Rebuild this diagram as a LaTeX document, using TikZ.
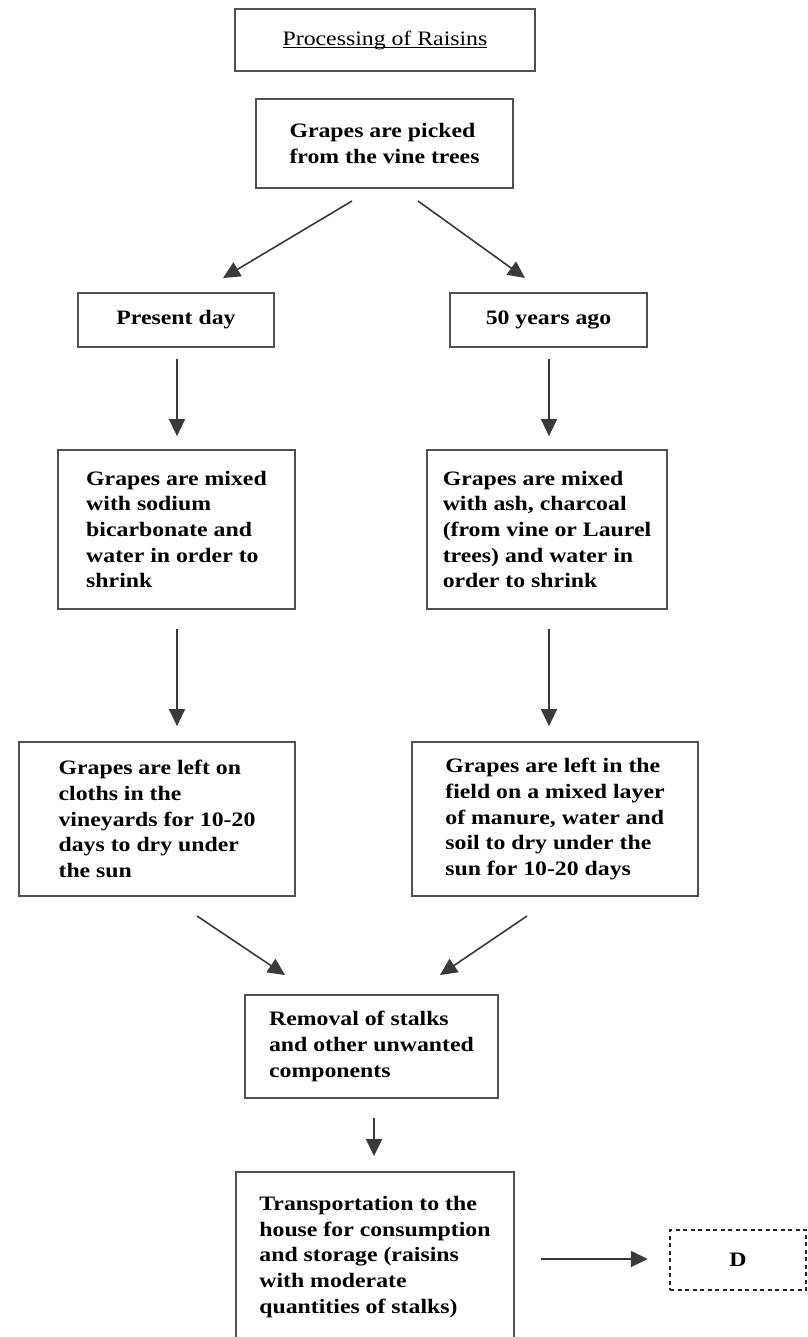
\documentclass[tikz,border=0pt]{standalone}
\usepackage{fontspec}
\setmainfont{Liberation Serif}[FakeStretch=1.16]
\usetikzlibrary{arrows.meta}
\definecolor{boxgray}{HTML}{505050}
\definecolor{linegray}{HTML}{3A3A3A}
\newcommand\myul[1]{\leavevmode\setbox0\hbox{#1}\rlap{\rule[-3pt]{\wd0}{1.3pt}}\box0}
\begin{document}
\begin{tikzpicture}[x=1pt,y=-1pt,
  box/.style={draw=boxgray, line width=1.8pt, align=left, inner sep=0pt,
    font=\fontsize{20.5}{25.7}\selectfont\bfseries, text=black},
  arr/.style={draw=linegray, line width=1.6pt, -{Triangle[length=17pt,width=16pt]}},
  dbox/.style={draw=black!85, line width=2.4pt, dash pattern=on 4pt off 3.5pt,
    font=\fontsize{20.5}{25.7}\selectfont\bfseries}]
\useasboundingbox (0,0) rectangle (807,1337);
\fill[white] (0,0) rectangle (807,1337);
\clip (0,0) rectangle (807,1337);

\node[box, font=\fontsize{20.5}{25}\selectfont, minimum width=300pt, minimum height=62pt] (title) at (385,40) {\myul{Processing of Raisins}};
\node[box, minimum width=257pt, minimum height=89pt] (grapes) at (384.5,143.5) {Grapes are picked\\from the vine trees};
\node[box, minimum width=196pt, minimum height=54pt] (present) at (176,320) {Present day};
\node[box, minimum width=197pt, minimum height=54pt] (fifty) at (548.5,320) {50 years ago};
\node[box, minimum width=237pt, minimum height=159pt] (mixL) at (176.5,529.5) {Grapes are mixed\\with sodium\\bicarbonate and\\water in order to\\shrink};
\node[box, minimum width=240pt, minimum height=159pt] (mixR) at (547,529.5) {Grapes are mixed\\with ash, charcoal\\(from vine or Laurel\\trees) and water in\\order to shrink};
\node[box, minimum width=276pt, minimum height=154pt] (leftL) at (157,819) {Grapes are left on\\cloths in the\\vineyards for 10-20\\days to dry under\\the sun};
\node[box, minimum width=286pt, minimum height=154pt] (leftR) at (555,819) {Grapes are left in the\\field on a mixed layer\\of manure, water and\\soil to dry under the\\sun for 10-20 days};
\node[box, minimum width=253pt, minimum height=103pt] (removal) at (371.5,1046.5) {Removal of stalks\\and other unwanted\\components};
\node[box, minimum width=278pt, minimum height=170pt] (transport) at (375,1257) {Transportation to the\\house for consumption\\and storage (raisins\\with moderate\\quantities of stalks)};
\node[dbox, minimum width=136pt, minimum height=60pt] (D) at (738,1260) {D};

\coordinate (g1) at (352,201);
\coordinate (p1) at (223,278);
\coordinate (g2) at (418,201);
\coordinate (f1) at (525,278);
\coordinate (l1) at (197,916);
\coordinate (r1) at (285,975);
\coordinate (l2) at (527,916);
\coordinate (r2) at (440,975);

\draw[arr] (g1) -- (p1);
\draw[arr] (g2) -- (f1);
\draw[arr, shorten <=11pt, shorten >=13pt] (177,0 |- present.south) -- (177,0 |- mixL.north);
\draw[arr, shorten <=11pt, shorten >=13pt] (549,0 |- fifty.south) -- (549,0 |- mixR.north);
\draw[arr, shorten <=19pt, shorten >=15pt] (177,0 |- mixL.south) -- (177,0 |- leftL.north);
\draw[arr, shorten <=19pt, shorten >=15pt] (549,0 |- mixR.south) -- (549,0 |- leftR.north);
\draw[arr] (l1) -- (r1);
\draw[arr] (l2) -- (r2);
\draw[arr, shorten <=19pt, shorten >=15pt] (374,0 |- removal.south) -- (374,0 |- transport.north);
\draw[arr, shorten <=26pt, shorten >=21pt] (transport.east |- 0,1259) -- (D.west |- 0,1259);
\end{tikzpicture}
\end{document}
